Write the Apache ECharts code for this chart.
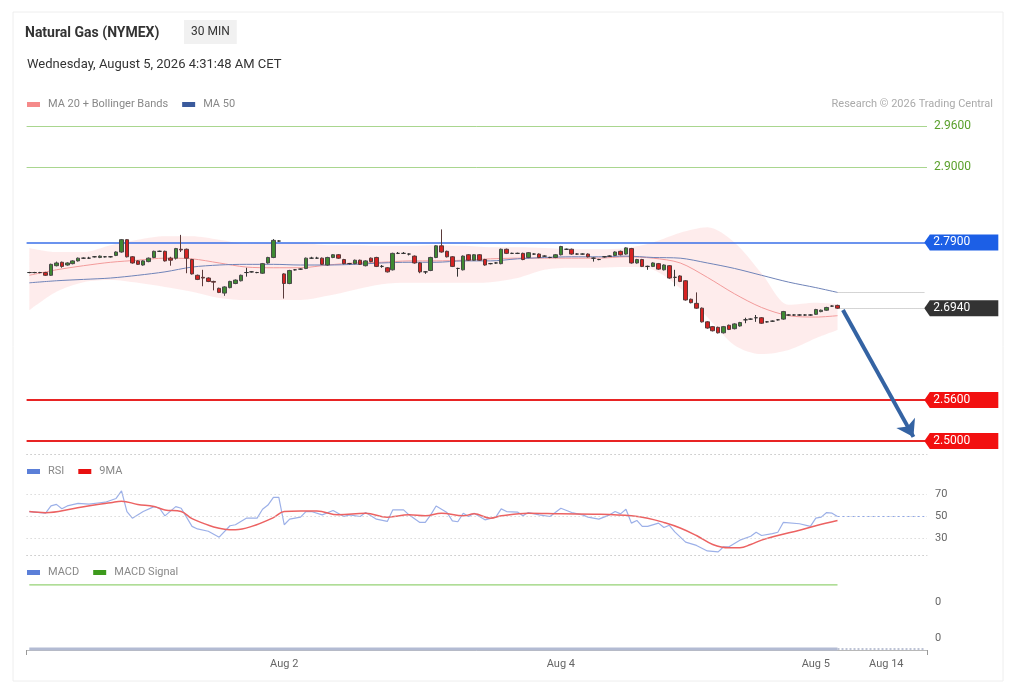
<!DOCTYPE html>
<html><head><meta charset="utf-8">
<script src="https://cdn.jsdelivr.net/npm/echarts@6/dist/echarts.min.js"></script>
<style>html,body{margin:0;padding:0;background:#fff}#c{width:1022px;height:688px}</style>
</head><body><div id="c"></div>
<script>
// ---- data (open, close, low, high) ----
const candles = [
[2.746,2.746,2.745,2.747],[2.746,2.746,2.745,2.747],[2.746,2.746,2.745,2.747],[2.746,2.742,2.741,2.747],
[2.742,2.758,2.741,2.759],[2.756,2.760,2.755,2.762],[2.761,2.755,2.753,2.762],[2.757,2.760,2.756,2.761],
[2.759,2.763,2.758,2.764],[2.763,2.767,2.762,2.768],[2.767,2.767,2.766,2.768],[2.767,2.767,2.766,2.769],
[2.769,2.769,2.768,2.770],[2.768,2.770,2.767,2.771],[2.769,2.769,2.768,2.770],[2.769,2.769,2.768,2.770],
[2.771,2.776,2.770,2.777],[2.776,2.794,2.775,2.795],[2.794,2.769,2.768,2.795],[2.769,2.760,2.759,2.770],
[2.763,2.758,2.757,2.764],[2.757,2.763,2.756,2.764],[2.762,2.767,2.761,2.768],[2.768,2.777,2.767,2.778],
[2.777,2.777,2.776,2.778],[2.777,2.763,2.762,2.778],[2.767,2.764,2.756,2.769],[2.767,2.781,2.765,2.782],
[2.780,2.779,2.776,2.801],[2.780,2.767,2.745,2.781],[2.765,2.744,2.743,2.766],[2.742,2.736,2.735,2.743],
[2.739,2.738,2.726,2.750],[2.738,2.733,2.732,2.739],[2.733,2.732,2.720,2.734],[2.723,2.717,2.716,2.724],
[2.716,2.725,2.712,2.726],[2.724,2.733,2.723,2.734],[2.730,2.735,2.729,2.736],[2.734,2.742,2.733,2.743],
[2.746,2.746,2.740,2.753],[2.747,2.747,2.746,2.748],[2.746,2.746,2.745,2.747],[2.745,2.759,2.744,2.760],
[2.760,2.768,2.759,2.769],[2.768,2.793,2.767,2.795],[2.792,2.792,2.791,2.793],[2.744,2.730,2.708,2.745],
[2.730,2.749,2.729,2.750],[2.750,2.750,2.749,2.751],[2.751,2.751,2.750,2.752],[2.752,2.767,2.751,2.768],
[2.767,2.767,2.766,2.769],[2.767,2.767,2.766,2.769],[2.767,2.758,2.757,2.768],[2.757,2.768,2.756,2.769],
[2.768,2.772,2.767,2.773],[2.772,2.767,2.766,2.773],[2.765,2.759,2.758,2.766],[2.759,2.759,2.758,2.760],
[2.759,2.764,2.758,2.765],[2.764,2.758,2.757,2.765],[2.756,2.763,2.755,2.764],[2.767,2.762,2.761,2.768],
[2.768,2.755,2.754,2.769],[2.755,2.755,2.753,2.757],[2.753,2.747,2.746,2.754],[2.750,2.774,2.749,2.775],
[2.774,2.774,2.773,2.776],[2.774,2.774,2.773,2.776],[2.773,2.773,2.771,2.774],[2.770,2.760,2.759,2.771],
[2.760,2.747,2.745,2.761],[2.747,2.747,2.744,2.748],[2.749,2.768,2.748,2.769],[2.768,2.785,2.767,2.786],
[2.785,2.776,2.775,2.809],[2.777,2.769,2.768,2.778],[2.769,2.755,2.754,2.770],[2.752,2.752,2.740,2.753],
[2.750,2.770,2.749,2.771],[2.772,2.764,2.763,2.773],[2.764,2.772,2.763,2.773],[2.772,2.764,2.763,2.773],
[2.765,2.757,2.756,2.766],[2.759,2.759,2.758,2.760],[2.760,2.760,2.759,2.761],[2.759,2.780,2.758,2.781],
[2.780,2.774,2.773,2.781],[2.774,2.774,2.773,2.775],[2.774,2.774,2.773,2.775],[2.774,2.765,2.764,2.775],
[2.768,2.775,2.767,2.776],[2.773,2.773,2.772,2.774],[2.773,2.768,2.767,2.774],[2.770,2.770,2.769,2.771],
[2.768,2.768,2.767,2.769],[2.768,2.772,2.767,2.773],[2.772,2.784,2.771,2.785],[2.780,2.780,2.779,2.781],
[2.780,2.773,2.772,2.781],[2.773,2.773,2.772,2.774],[2.773,2.773,2.772,2.774],[2.773,2.769,2.768,2.774],
[2.767,2.767,2.762,2.768],[2.765,2.765,2.764,2.766],[2.769,2.769,2.768,2.770],[2.770,2.770,2.769,2.771],
[2.771,2.776,2.770,2.777],[2.777,2.772,2.771,2.778],[2.773,2.782,2.772,2.783],[2.781,2.760,2.759,2.782],
[2.760,2.765,2.759,2.766],[2.765,2.755,2.754,2.766],[2.755,2.755,2.750,2.756],[2.755,2.760,2.754,2.761],
[2.759,2.751,2.750,2.760],[2.750,2.757,2.749,2.758],[2.756,2.738,2.737,2.757],[2.739,2.739,2.726,2.750],
[2.741,2.733,2.732,2.742],[2.734,2.706,2.705,2.735],[2.707,2.702,2.701,2.708],[2.701,2.694,2.693,2.717],
[2.694,2.674,2.673,2.695],[2.674,2.665,2.664,2.675],[2.667,2.661,2.660,2.668],[2.666,2.658,2.657,2.667],
[2.658,2.667,2.657,2.668],[2.669,2.663,2.662,2.670],[2.664,2.671,2.663,2.672],[2.668,2.673,2.667,2.674],
[2.677,2.677,2.672,2.680],[2.678,2.678,2.677,2.679],[2.680,2.680,2.674,2.684],[2.680,2.672,2.671,2.681],
[2.674,2.674,2.673,2.675],[2.675,2.675,2.674,2.676],[2.677,2.677,2.676,2.678],[2.678,2.689,2.677,2.690],
[2.684,2.684,2.683,2.685],[2.684,2.684,2.683,2.685],[2.684,2.684,2.683,2.685],[2.684,2.684,2.683,2.685],
[2.684,2.684,2.683,2.685],[2.685,2.692,2.684,2.693],[2.689,2.691,2.688,2.692],[2.691,2.695,2.690,2.696],
[2.697,2.697,2.696,2.698],[2.698,2.694,2.693,2.699]
];
// indicator sample positions (bar index) and values
const bbIdx   = [0,5,10,15,20,25,30,35,40,45,50,55,60,65,70,75,80,85,90,95,100,105,110,115,120,125,130,135,140,145,149];
const bbUpper = [2.782,2.776,2.776,2.786,2.794,2.799,2.799,2.794,2.788,2.789,2.789,2.786,2.786,2.785,2.785,2.786,2.785,2.783,2.783,2.782,2.780,2.780,2.782,2.790,2.804,2.812,2.790,2.745,2.699,2.702,2.700];
const bbLower = [2.691,2.718,2.732,2.735,2.731,2.725,2.718,2.709,2.706,2.706,2.706,2.712,2.721,2.729,2.731,2.731,2.731,2.732,2.738,2.750,2.753,2.753,2.754,2.750,2.723,2.681,2.640,2.627,2.633,2.650,2.662];
const ma20    = [2.742,2.750,2.756,2.761,2.764,2.767,2.766,2.760,2.754,2.753,2.753,2.757,2.760,2.761,2.763,2.763,2.764,2.766,2.767,2.767,2.767,2.767,2.769,2.767,2.760,2.739,2.715,2.695,2.683,2.681,2.683];
const ma50    = [2.731,2.734,2.736,2.738,2.742,2.747,2.754,2.757,2.758,2.758,2.757,2.757,2.758,2.760,2.761,2.761,2.763,2.763,2.766,2.768,2.769,2.769,2.770,2.768,2.767,2.760,2.752,2.742,2.732,2.724,2.717];
const rsiPoints = [[0,54.5],[3,53],[4,59.6],[5,61],[6,57],[7,59.6],[9,62],[11,61.3],[13,62.5],[14,63],[16,66.4],[17,73.3],[18,54.5],[19,48.5],[21,54.5],[23,59],[24,57.5],[25,50.6],[27,59],[28,57.5],[30,41],[31,38.7],[33,36.6],[35,31.2],[37,41.6],[38,42.5],[40,48.5],[42,48.5],[43,56.6],[44,60.4],[45,67.3],[46,67.3],[47,42.5],[48,47.6],[50,49.4],[51,54.5],[52,54.5],[54,51.5],[56,55.4],[58,50],[59,51.5],[61,50],[62,53.6],[64,47.6],[66,45.5],[67,56],[69,56],[70,51.5],[72,44.6],[73,44.6],[74,51.5],[75,59.5],[77,53.6],[78,46],[79,45.2],[80,53],[81,50],[82,53],[84,47],[86,49.4],[87,56.9],[88,54.5],[90,54],[91,50.6],[92,53.6],[94,51.5],[96,50],[98,57.5],[100,53.6],[102,51.5],[103,49.4],[105,47.6],[107,51.5],[108,54.5],[109,52.4],[110,56.6],[111,44],[112,46.4],[113,41],[114,41],[116,44],[117,40],[118,42],[119,36],[121,26.7],[123,23.7],[125,18.7],[127,17.8],[128,22.5],[129,22.5],[131,28.5],[133,32],[134,35.7],[135,32.7],[137,34.5],[138,35.7],[139,44.6],[142,43.4],[144,41],[145,48.5],[146,49.4],[147,53.6],[148,53],[149,50]];
const rsiMaPoints = [[0,54.5],[3,53.5],[8,57],[12,60.5],[15,62.5],[17,63.8],[20,61],[23,59],[25,56],[28,54.5],[30,48],[32,44],[34,40.5],[36,38.5],[38,38],[41,41],[45,49],[47,54.5],[50,55],[53,55],[57,51.5],[62,53],[66,49.4],[70,51.5],[73,50.6],[76,53],[80,50.6],[82,52.4],[85,48.5],[87,50.6],[92,53],[98,52.4],[105,52],[111,50.6],[114,48.5],[117,44.6],[120,39.6],[123,32.7],[126,24.6],[129,21.6],[131,21.6],[133,24.6],[135,28.5],[138,32.7],[142,37.5],[145,41.6],[149,46.4]];
const macdPoints   = [[0,-0.00097],[149,-0.00097]];
const signalPoints = [[0,0.00117],[149,0.00117]];
const targetLevels  = [2.96, 2.90];
const pivotLevel    = 2.79;
const supportLevels = [2.56, 2.50];
const arrowFrom = [150, 2.6913];
const arrowTo   = [163, 2.506];
const tickLabels = ['Aug 2','Aug 4','Aug 5','Aug 14'];
const tickIndex  = [47, 98, 145, 158];
const N_CAT = 166;

// ---- build ----
const categories = Array.from({length:N_CAT}, (_, i) => String(i));
const labelAt = {}; tickIndex.forEach((k, j) => labelAt[k] = tickLabels[j]);
const lastIdx = candles.length - 1;
const lastClose = candles[lastIdx][1];
const endIdx = N_CAT - 1;
const pair = (vals) => bbIdx.map((x, i) => [x, vals[i]]);
const bandWidth = bbIdx.map((x, i) => [x, +(bbUpper[i] - bbLower[i]).toFixed(4)]);
const f4 = v => v.toFixed(4);

const tagPath = 'path://M0,8 L6,0 L80,0 L80,16 L6,16 Z';
const lineCommon = {type:'line', showSymbol:false, symbol:'none', silent:true};
const sepLine = {show:true, onZero:false, lineStyle:{type:[1,3], color:'#cfcfcf', width:1}};

const option = {
  animation:false,
  textStyle:{fontFamily:'Roboto, "Liberation Sans", sans-serif'},
  title:[
    {text:'Natural Gas (NYMEX)', left:25, top:26, padding:0, textStyle:{fontSize:14, fontWeight:'bold', color:'#333'}},
    {text:'30 MIN', left:184, top:20, padding:[6,7], backgroundColor:'#f1f1f1', textStyle:{fontSize:12, fontWeight:'normal', color:'#333', lineHeight:12}},
    {text:'Wednesday, August 5, 2026 4:31:48 AM CET', left:27, top:58, padding:0, textStyle:{fontSize:13, fontWeight:'normal', color:'#333'}},
    {text:'Research © 2026 Trading Central', right:29, top:99, padding:0, textStyle:{fontSize:11, fontWeight:'normal', color:'#aaa'}}
  ],
  graphic:[{type:'rect', silent:true, shape:{x:13, y:12, width:990, height:669}, style:{fill:'none', stroke:'#eeeeee', lineWidth:1}}],
  legend:[
    {data:[{name:'MA 20 + Bollinger Bands', itemStyle:{color:'#f58a8a'}},{name:'MA 50', itemStyle:{color:'#3a5a9c'}}],
     left:27, top:99, icon:'rect', itemWidth:13, itemHeight:5, itemGap:14, padding:0, selectedMode:false,
     textStyle:{color:'#888', fontSize:11, padding:[0,0,0,3]}},
    {data:[{name:'RSI', itemStyle:{color:'#5b7fd8'}},{name:'9MA', itemStyle:{color:'#e81010'}}],
     left:27, top:466, icon:'rect', itemWidth:13, itemHeight:5, itemGap:14, padding:0, selectedMode:false,
     textStyle:{color:'#888', fontSize:11, padding:[0,0,0,3]}},
    {data:[{name:'MACD', itemStyle:{color:'#5b7fd8'}},{name:'MACD Signal', itemStyle:{color:'#3d9a1c'}}],
     left:27, top:567, icon:'rect', itemWidth:13, itemHeight:5, itemGap:14, padding:0, selectedMode:false,
     textStyle:{color:'#888', fontSize:11, padding:[0,0,0,3]}}
  ],
  grid:[
    {left:26.6, right:95, top:116, bottom:234},
    {left:26.6, right:95, top:472.5, bottom:133},
    {left:26.6, right:95, top:575, bottom:38}
  ],
  xAxis:[
    {type:'category', gridIndex:0, data:categories, boundaryGap:true,
     axisLine:sepLine, axisTick:{show:false}, axisLabel:{show:false}, splitLine:{show:false}},
    {type:'category', gridIndex:1, data:categories, boundaryGap:true,
     axisLine:sepLine, axisTick:{show:false}, axisLabel:{show:false}, splitLine:{show:false}},
    {type:'category', gridIndex:2, data:categories, boundaryGap:true,
     axisLine:{show:true, onZero:false, lineStyle:{color:'#b8b8b8'}},
     axisTick:{show:true, interval:(i) => i === 0, length:5, lineStyle:{color:'#999'}},
     axisLabel:{interval:0, formatter:(v, i) => labelAt[i] || '', color:'#666', fontSize:11, margin:9},
     splitLine:{show:false}}
  ],
  yAxis:[
    {type:'value', gridIndex:0, min:2.48103, max:2.9746, show:false},
    {type:'value', gridIndex:1, min:15, max:90, position:'right',
     axisLine:{show:false}, axisTick:{show:false}, splitLine:{show:false},
     axisLabel:{customValues:[30,50,70], color:'#666', fontSize:11, margin:8}},
    {type:'value', gridIndex:2, min:-0.001, max:0.0015, position:'right',
     axisLine:{show:false}, axisTick:{show:false}, splitLine:{show:false},
     axisLabel:{customValues:[-0.0006, 0.0006], formatter:v => String(Math.round(v)), color:'#666', fontSize:11, margin:8}}
  ],
  series:[
    {type:'candlestick', name:'Price', xAxisIndex:0, yAxisIndex:0, z:5, barWidth:4, data:candles,
     itemStyle:{color:'#3e8a32', color0:'#d62222', borderColor:'#4a4a4a', borderColor0:'#5a3a3a', borderColorDoji:'#333', borderWidth:1},
     markLine:{silent:true, symbol:['none','none'], label:{show:false},
       data:[
         ...targetLevels.map(v => ({yAxis:v, lineStyle:{color:'#a9d68f', width:1, type:'solid'},
            label:{show:true, position:'end', distance:7, formatter:() => f4(v), color:'#5aa02c', fontSize:12}})),
         {yAxis:pivotLevel, lineStyle:{color:'#3a6fe8', width:1.5, type:'solid'}},
         ...supportLevels.map(v => ({yAxis:v, lineStyle:{color:'#e82424', width:2, type:'solid'}})),
         [{coord:[lastIdx, lastClose], lineStyle:{color:'#aaa', width:1, type:'dotted'}}, {coord:[endIdx, lastClose]}],
         [{coord:[lastIdx, ma50[ma50.length-1]], lineStyle:{color:'#aaa', width:1, type:'dotted'}}, {coord:[endIdx, ma50[ma50.length-1]]}],
         [{coord:arrowFrom, symbol:'none', lineStyle:{color:'#3463a3', width:4, type:'solid'}}, {coord:arrowTo, symbol:'arrow', symbolSize:16}]
       ]},
     markPoint:{silent:true, symbol:tagPath, symbolSize:[74,16], symbolOffset:[37,0],
       label:{show:true, position:'insideLeft', distance:9, color:'#fff', fontSize:12, formatter:p => p.value},
       data:[
         {coord:[endIdx, pivotLevel], value:f4(pivotLevel), itemStyle:{color:'#1c5fe6'}},
         {coord:[endIdx, lastClose], value:f4(lastClose), itemStyle:{color:'#333333'}},
         ...supportLevels.map(v => ({coord:[endIdx, v], value:f4(v), itemStyle:{color:'#f21010'}}))
       ]}
    },
    {...lineCommon, name:'bbLower', xAxisIndex:0, yAxisIndex:0, stack:'bb', smooth:0.3, z:1,
     lineStyle:{opacity:0}, data:pair(bbLower)},
    {...lineCommon, name:'bbBand', xAxisIndex:0, yAxisIndex:0, stack:'bb', smooth:0.3, z:1,
     lineStyle:{opacity:0}, areaStyle:{color:'rgba(245,120,120,0.2)'}, data:bandWidth},
    {...lineCommon, name:'MA 20 + Bollinger Bands', xAxisIndex:0, yAxisIndex:0, smooth:0.3, z:2,
     itemStyle:{color:'#f58a8a'}, lineStyle:{color:'#f29a9a', width:1}, data:pair(ma20)},
    {...lineCommon, name:'MA 50', xAxisIndex:0, yAxisIndex:0, smooth:0.3, z:2,
     itemStyle:{color:'#3a5a9c'}, lineStyle:{color:'#6f83b8', width:1}, data:pair(ma50)},
    {...lineCommon, name:'RSI', xAxisIndex:1, yAxisIndex:1, z:2,
     itemStyle:{color:'#5b7fd8'}, lineStyle:{color:'#9cb0e8', width:1.2}, data:rsiPoints,
     markLine:{silent:true, symbol:['none','none'], label:{show:false},
       lineStyle:{type:[1,3], color:'#c8c8c8', width:1},
       data:[{yAxis:70},{yAxis:50},{yAxis:30},
         [{coord:[lastIdx, rsiPoints[rsiPoints.length-1][1]], lineStyle:{type:[2,3], color:'#8fa6e6', width:1}},
          {coord:[endIdx, rsiPoints[rsiPoints.length-1][1]], lineStyle:{type:[2,3], color:'#8fa6e6', width:1}}]]}},
    {...lineCommon, name:'9MA', xAxisIndex:1, yAxisIndex:1, smooth:0.4, z:3,
     itemStyle:{color:'#e81010'}, lineStyle:{color:'#ec6262', width:1.5}, data:rsiMaPoints},
    {...lineCommon, name:'MACD', xAxisIndex:2, yAxisIndex:2, z:3,
     itemStyle:{color:'#5b7fd8'}, lineStyle:{color:'#b3bbd3', width:3}, data:macdPoints,
     markLine:{silent:true, symbol:['none','none'], label:{show:false},
       data:[[{coord:[lastIdx, macdPoints[1][1]], lineStyle:{type:[2,2], color:'#a8b0c8', width:1.5}},
              {coord:[endIdx, macdPoints[1][1]], lineStyle:{type:[2,2], color:'#a8b0c8', width:1.5}}]]}},
    {...lineCommon, name:'MACD Signal', xAxisIndex:2, yAxisIndex:2, z:3,
     itemStyle:{color:'#3d9a1c'}, lineStyle:{color:'#95d275', width:1.2}, data:signalPoints}
  ]
};
const chart = echarts.init(document.getElementById('c'));
chart.setOption(option);
</script>
</body></html>
